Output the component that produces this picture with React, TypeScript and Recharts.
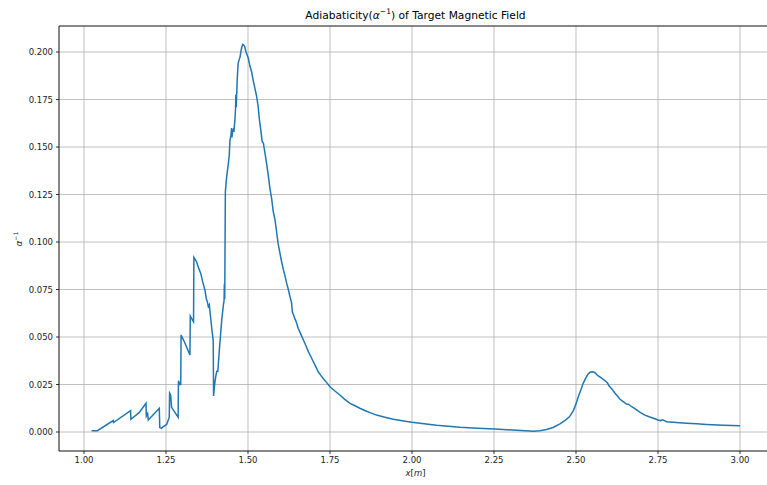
import React from 'react'
import { LineChart, Line, XAxis, YAxis, CartesianGrid, ReferenceLine } from 'recharts'

// position along the beamline [m]
const xPos = [
  1.023, 1.041, 1.089, 1.09, 1.142, 1.143, 1.168, 1.189, 1.19, 1.194, 1.196, 1.2296, 1.231, 1.236, 1.243,
  1.252, 1.26, 1.261, 1.264, 1.267, 1.287, 1.288, 1.292, 1.295, 1.296, 1.308, 1.323, 1.324, 1.334, 1.335,
  1.343, 1.35, 1.356, 1.362, 1.369, 1.373, 1.376, 1.379, 1.382, 1.389, 1.394, 1.395, 1.399, 1.402, 1.405,
  1.408, 1.413, 1.42, 1.425, 1.427, 1.428, 1.429, 1.43, 1.431, 1.435, 1.44, 1.443, 1.445, 1.448, 1.45,
  1.451, 1.453, 1.455, 1.457, 1.46, 1.462, 1.463, 1.464, 1.466, 1.467, 1.47, 1.473, 1.476, 1.478, 1.481,
  1.484, 1.487, 1.49, 1.494, 1.501, 1.506, 1.511, 1.516, 1.521, 1.526, 1.531, 1.535, 1.539, 1.543, 1.547,
  1.552, 1.557, 1.562, 1.567, 1.572, 1.577, 1.582, 1.5875, 1.592, 1.596, 1.602, 1.608, 1.613, 1.618, 1.623,
  1.628, 1.633, 1.635, 1.64, 1.643, 1.646, 1.653, 1.661, 1.669, 1.677, 1.684, 1.692, 1.699, 1.707, 1.714,
  1.722, 1.73, 1.74, 1.75, 1.765, 1.78, 1.795, 1.811, 1.826, 1.841, 1.856, 1.872, 1.892, 1.917, 1.943,
  1.97, 2.0, 2.037, 2.075, 2.11, 2.146, 2.2, 2.253, 2.29, 2.319, 2.345, 2.37, 2.39, 2.41, 2.43,
  2.451, 2.466, 2.48, 2.492, 2.5, 2.507, 2.515, 2.522, 2.53, 2.537, 2.543, 2.548, 2.553, 2.558, 2.563,
  2.568, 2.575, 2.583, 2.59, 2.596, 2.6, 2.61, 2.619, 2.627, 2.634, 2.644, 2.654, 2.66, 2.67, 2.685,
  2.697, 2.71, 2.723, 2.736, 2.75, 2.757, 2.764, 2.77, 2.776, 2.806, 2.837, 2.868, 2.898, 2.95, 3.0,
]

// inverse adiabaticity alpha^-1
const alphaInv = [
  0.0007, 0.0007, 0.006, 0.005, 0.0112, 0.0067, 0.0102, 0.0151, 0.0084, 0.0097, 0.0063, 0.0125, 0.0023, 0.0019, 0.003,
  0.004, 0.0078, 0.0205, 0.0196, 0.013, 0.0078, 0.027, 0.025, 0.025, 0.051, 0.0467, 0.0405, 0.061, 0.058, 0.0919,
  0.0897, 0.086, 0.0835, 0.079, 0.0745, 0.07, 0.0686, 0.066, 0.067, 0.0554, 0.048, 0.019, 0.026, 0.0295, 0.032,
  0.032, 0.044, 0.059, 0.067, 0.069, 0.078, 0.07, 0.096, 0.1265, 0.1344, 0.141, 0.146, 0.1537, 0.156, 0.16,
  0.155, 0.158, 0.159, 0.158, 0.164, 0.17, 0.1775, 0.171, 0.18, 0.1853, 0.194, 0.196, 0.1975, 0.2, 0.2025,
  0.204, 0.2037, 0.2028, 0.2, 0.1967, 0.1925, 0.1896, 0.185, 0.1809, 0.177, 0.1712, 0.164, 0.159, 0.153, 0.152,
  0.1465, 0.141, 0.135, 0.128, 0.123, 0.116, 0.112, 0.105, 0.099, 0.0955, 0.09, 0.0853, 0.082, 0.0782, 0.075,
  0.0712, 0.068, 0.0633, 0.061, 0.0595, 0.0585, 0.0546, 0.0515, 0.0484, 0.0453, 0.0423, 0.0396, 0.037, 0.0343, 0.0317,
  0.0298, 0.028, 0.026, 0.0238, 0.0216, 0.0195, 0.0172, 0.0151, 0.0138, 0.0125, 0.0113, 0.0102, 0.0089, 0.0078, 0.0067,
  0.0059, 0.0051, 0.0043, 0.0035, 0.003, 0.0025, 0.002, 0.0016, 0.0012, 0.0009, 0.0006, 0.0004, 0.0007, 0.0013, 0.0024,
  0.0043, 0.006, 0.008, 0.0112, 0.0148, 0.0186, 0.0222, 0.0256, 0.0285, 0.0305, 0.0315, 0.0317, 0.0316, 0.0312, 0.0303,
  0.0295, 0.0287, 0.0277, 0.0268, 0.0258, 0.0245, 0.0225, 0.0204, 0.0188, 0.0172, 0.016, 0.0147, 0.0146, 0.0133, 0.0116,
  0.0102, 0.0089, 0.008, 0.0072, 0.0063, 0.006, 0.0064, 0.006, 0.0054, 0.005, 0.0046, 0.0043, 0.004, 0.0036, 0.0033,
]

const xTicks = [1.0, 1.25, 1.5, 1.75, 2.0, 2.25, 2.5, 2.75, 3.0]
const yTicks = [0, 0.025, 0.05, 0.075, 0.1, 0.125, 0.15, 0.175, 0.2]

const X_DOMAIN: [number, number] = [0.9238, 3.0976]
const Y_DOMAIN: [number, number] = [-0.01, 0.2137]

const data = xPos.map((x, i) => ({ x, a: alphaInv[i] }))

const FONT = '"DejaVu Sans", sans-serif'
const tickStyle = { fontSize: 8.5, fill: '#222', fontFamily: FONT }

export default function App() {
  return (
    <div
      style={{
        position: 'absolute',
        left: 0,
        top: 0,
        width: 767,
        height: 485,
        overflow: 'hidden',
        background: '#fff',
        fontFamily: FONT,
      }}
    >
      <LineChart width={780} height={485} data={data} margin={{ top: 26, right: 8, bottom: 0, left: 0 }}>
        <CartesianGrid stroke="#b0b0b0" strokeWidth={0.8} />
        <XAxis
          type="number"
          dataKey="x"
          domain={X_DOMAIN}
          ticks={xTicks}
          allowDataOverflow
          height={34}
          tickSize={3}
          tickMargin={3}
          tick={tickStyle}
          tickFormatter={(v: number) => v.toFixed(2)}
          stroke="#000"
          axisLine={{ stroke: '#000', strokeWidth: 0.8 }}
          tickLine={{ stroke: '#000', strokeWidth: 0.8 }}
        />
        <YAxis
          type="number"
          domain={Y_DOMAIN}
          ticks={yTicks}
          allowDataOverflow
          width={59}
          tickSize={3}
          tickMargin={3}
          tick={tickStyle}
          tickFormatter={(v: number) => v.toFixed(3)}
          axisLine={{ stroke: '#000', strokeWidth: 0.8 }}
          tickLine={{ stroke: '#000', strokeWidth: 0.8 }}
        />
        {/* top spine */}
        <ReferenceLine y={Y_DOMAIN[1]} stroke="#000" strokeWidth={0.8} />
        <Line
          type="linear"
          dataKey="a"
          stroke="#1f77b4"
          strokeWidth={1.5}
          dot={false}
          isAnimationActive={false}
        />
      </LineChart>

      {/* title */}
      <div
        style={{
          position: 'absolute',
          left: 0,
          width: 831,
          top: 7,
          textAlign: 'center',
          fontSize: 10.7,
          color: '#000',
          whiteSpace: 'nowrap',
        }}
      >
        Adiabaticity(<i>α</i>
        <sup style={{ fontSize: 7.5 }}>−1</sup>) of Target Magnetic Field
      </div>

      {/* x label */}
      <div
        style={{
          position: 'absolute',
          left: 0,
          width: 831,
          top: 468,
          textAlign: 'center',
          fontSize: 8.5,
          color: '#222',
        }}
      >
        <i>x</i>[<i>m</i>]
      </div>

      {/* y label */}
      <div
        style={{
          position: 'absolute',
          left: 18,
          top: 239,
          transform: 'translate(-50%, -50%) rotate(-90deg)',
          fontSize: 8.5,
          color: '#222',
          whiteSpace: 'nowrap',
        }}
      >
        <i>α</i>
        <sup style={{ fontSize: 6 }}>−1</sup>
      </div>
    </div>
  )
}
